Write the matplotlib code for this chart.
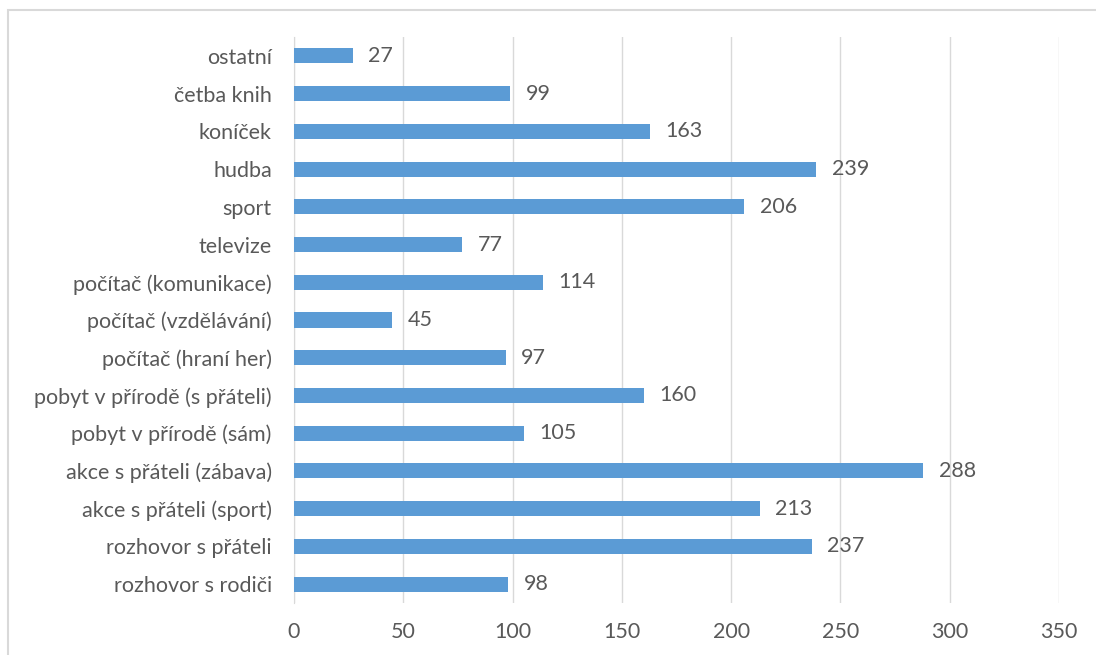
import matplotlib.pyplot as plt
from matplotlib.patches import Rectangle

'''data'''
categories = ['ostatní', 'četba knih', 'koníček', 'hudba', 'sport', 'televize',
              'počítač (komunikace)', 'počítač (vzdělávání)', 'počítač (hraní her)',
              'pobyt v přírodě (s přáteli)', 'pobyt v přírodě (sám)',
              'akce s přáteli (zábava)', 'akce s přáteli (sport)',
              'rozhovor s přáteli', 'rozhovor s rodiči']
values = [27, 99, 163, 239, 206, 77, 114, 45, 97, 160, 105, 288, 213, 237, 98]
xticks = [0, 50, 100, 150, 200, 250, 300, 350]

bar_color = '#5B9BD5'
text_color = '#595959'
grid_color = '#D9D9D9'
fontsize = 15.5

plt.rcParams['font.family'] = ['Lato', 'DejaVu Sans']

fig = plt.figure(figsize=(10.96, 6.55), dpi=100)
ax = fig.add_axes([294 / 1096, 1 - 603 / 655, (1059 - 294) / 1096, (603 - 37) / 655])

y = list(range(len(categories)))
ax.barh(y, values, height=0.4, color=bar_color, zorder=3)

# value labels
for i, v in enumerate(values):
    ax.text(v + 7, i, str(v), va='center', ha='left', fontsize=fontsize, color=text_color)

ax.set_ylim(len(categories) - 0.5, -0.5)
ax.set_xlim(0, 350)
ax.set_yticks(y)
ax.set_yticklabels(categories, fontsize=fontsize, color=text_color)
ax.set_xticks(xticks)
ax.set_xticklabels([str(t) for t in xticks], fontsize=fontsize, color=text_color)
ax.tick_params(axis='both', length=0)
ax.tick_params(axis='y', pad=16)
ax.tick_params(axis='x', pad=14)

ax.grid(axis='x', color=grid_color, lw=1, zorder=0)
for s in ['top', 'right', 'bottom']:
    ax.spines[s].set_visible(False)
ax.spines['left'].set_color(grid_color)

# chart border
fig.patches.append(Rectangle((8 / 1096, -0.1), 1.2, 1.1 - 10 / 655, transform=fig.transFigure,
                             fill=False, edgecolor=grid_color, lw=1.5))

fig.savefig('out.png', dpi=100)
